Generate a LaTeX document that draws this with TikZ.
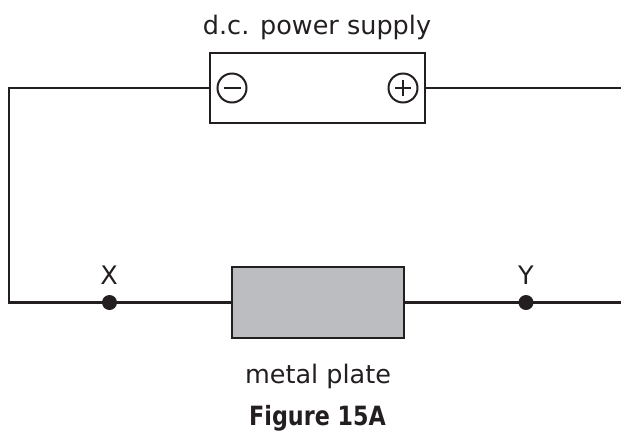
\documentclass[tikz,border=0pt]{standalone}
\usepackage{fontspec}
\setmainfont{DejaVu Sans}
\newfontfamily\figfont[FakeStretch=0.84]{DejaVu Sans Bold}
\begin{document}
\begin{tikzpicture}[x=1pt,y=-1pt,
  wire/.style={line width=2.5pt,draw=ink},
  lbl/.style={text=ink,font=\fontsize{25.5}{30}\selectfont,inner sep=0pt,anchor=base},
  term/.style={circle,draw=ink,line width=2pt,minimum size=29pt,inner sep=0pt},
  dotnode/.style={circle,fill=ink,minimum size=15pt,inner sep=0pt}]
\definecolor{ink}{HTML}{231F20}
\definecolor{plate}{HTML}{BCBDC0}
\useasboundingbox (0,0) rectangle (621,432);
% power supply
\node[draw=ink,line width=2.5pt,minimum width=215pt,minimum height=70pt,inner sep=0pt] (ps) at (317.5,88) {};
\node[lbl] (pslbl) at (317,34) {d.c. power supply};
\node[term] (neg) at (232,88) {};
\draw[ink,line width=2pt] ([xshift=-8.5pt]neg.center) -- ([xshift=8.5pt]neg.center);
\node[term] (pos) at (403,88) {};
\draw[ink,line width=2pt] ([xshift=-8pt]pos.center) -- ([xshift=8pt]pos.center);
\draw[ink,line width=2pt] ([yshift=-8pt]pos.center) -- ([yshift=8pt]pos.center);
% plate
\node[draw=ink,fill=plate,line width=2.5pt,minimum width=172pt,minimum height=71pt,inner sep=0pt] (plate) at (318,302.5) {};
\node[lbl] (platelbl) at (318,383.5) {metal plate};
\node[lbl,font=\fontsize{26.5}{31}\figfont] (fig) at (317.5,425) {Figure 15A};
% junctions
\node[dotnode] (X) at (109.5,302.5) {};
\node[dotnode] (Y) at (526,302.5) {};
\node[lbl] (xl) at (109,284) {X};
\node[lbl] (yl) at (526,284) {Y};
\coordinate (tl) at (9,88);
\coordinate (bl) at (9,302.5);
\coordinate (tr) at (621,88);
\coordinate (br) at (621,302.5);
\draw[wire] (ps.west |- tl) -- (tl) -- (bl) -- (X.center) -- (plate.west);
\draw[wire] (plate.east) -- (Y.center) -- (br);
\draw[wire] (ps.east |- tr) -- (tr);
\end{tikzpicture}
\end{document}
